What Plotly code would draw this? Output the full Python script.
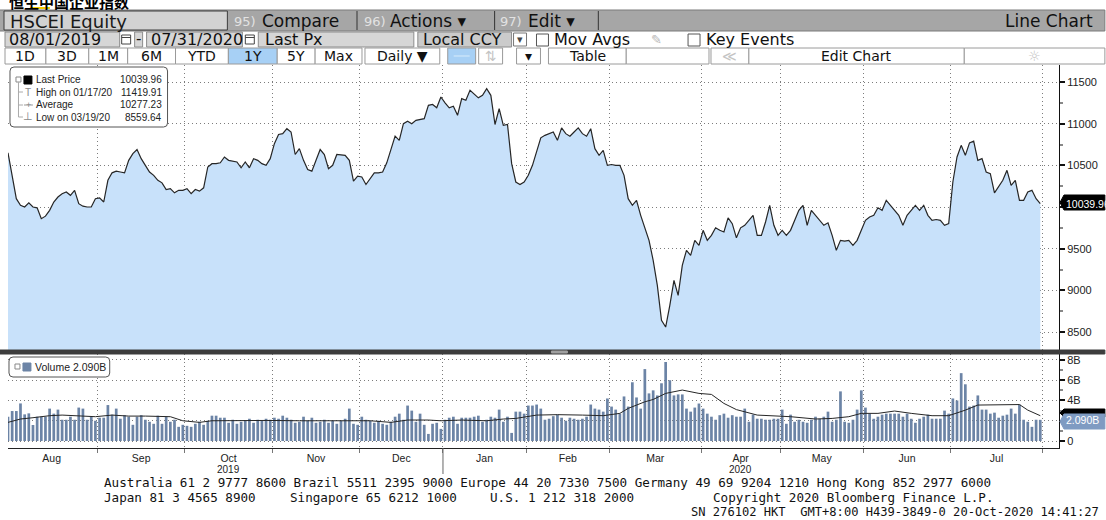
import plotly.graph_objects as go
from plotly.subplots import make_subplots

# trading-day index of the first session in each month (Aug 2019 .. Jul 2020) + end
month_start = [0, 22, 43, 64, 85, 105, 125, 145, 167, 186, 206, 227, 249]
month_names = ["Aug", "Sep", "Oct", "Nov", "Dec", "Jan", "Feb", "Mar", "Apr", "May", "Jun", "Jul"]
year_labels = [("2019", "Oct"), ("2020", "Apr")]

# HSCEI last price, one value per trading day
price = [
    10650, 10380, 10100, 10020, 10000, 10050, 10000, 9990, 9860, 9890,
    9960, 10060, 10120, 10160, 10180, 10140, 10200, 10040, 10010, 10000,
    10000, 10100, 10110, 10060, 10320, 10410, 10430, 10420, 10410, 10560,
    10640, 10690, 10580, 10500, 10420, 10380, 10320, 10290, 10210, 10220,
    10170, 10200, 10200, 10220, 10160, 10210, 10190, 10230, 10480, 10520,
    10520, 10530, 10600, 10560, 10550, 10540, 10470, 10540, 10470, 10580,
    10560, 10520, 10500, 10580, 10760, 10870, 10880, 10940, 10900, 10630,
    10700, 10560, 10450, 10430, 10560, 10690, 10630, 10460, 10500, 10630,
    10625, 10620, 10560, 10310, 10370, 10360, 10270, 10340, 10410, 10410,
    10420, 10530, 10700, 10850, 10800, 11000, 11030, 11000, 11040, 11050,
    11060, 11220, 11230, 11190, 11320, 11250, 11190, 11210, 11100, 11300,
    11280, 11400, 11360, 11310, 11340, 11419.91, 11340, 10990, 11180, 10980,
    10990, 10520, 10300, 10270, 10300, 10380, 10500, 10660, 10830, 10860,
    10880, 10900, 10800, 10950, 10880, 10850, 10900, 10950, 10880, 10850,
    10940, 10700, 10620, 10680, 10500, 10510, 10500, 10500, 10380, 10100,
    10020, 10080, 9900, 9750, 9600, 9360, 9060, 8640, 8559.64, 8820,
    9120, 8940, 9300, 9480, 9420, 9600, 9540, 9720, 9600, 9660,
    9750, 9720, 9700, 9870, 9800, 9630, 9750, 9780, 9840, 9900,
    9660, 9660, 9820, 10020, 9780, 9660, 9720, 9660, 9720, 9840,
    9960, 10020, 9780, 9960, 9900, 9840, 9780, 9810, 9660, 9480,
    9600, 9590, 9600, 9540, 9600, 9720, 9840, 9880, 9900, 9990,
    9960, 10080, 10020, 9960, 9900, 9780, 9900, 9960, 10020, 9960,
    10020, 9900, 9840, 9850, 9840, 9780, 9800, 10300, 10600, 10740,
    10620, 10770, 10790, 10560, 10580, 10420, 10400, 10170, 10250, 10320,
    10440, 10260, 10320, 10080, 10080, 10180, 10200, 10100, 10039.96,
]

# daily volume, billions
volume_b = [
    2.4, 2.96, 2.96, 3.71, 2.63, 2.73, 1.58, 2.4, 2.4, 2.4, 3.2, 2.7, 3.1, 2.1, 2.1, 2.4, 2.1, 3.3, 3.2, 2.1, 2.4, 2.0,
    2.3, 2.3, 3.55, 2.6, 3.2, 2.2, 2.55, 2.4, 1.6, 2.4, 2.55, 2.1, 1.9, 1.7, 2.5, 1.7, 2.4, 1.9, 2.1, 1.4, 1.6,
    1.5, 1.4, 1.7, 1.9, 1.6, 2.0, 2.5, 2.5, 2.3, 2.3, 1.8, 2.1, 1.7, 1.9, 2.0, 2.2, 1.8, 2.1, 2.0, 2.2, 2.1,
    2.3, 2.2, 2.5, 2.3, 2.1, 1.8, 1.9, 2.4, 2.0, 2.3, 1.8, 1.9, 2.1, 1.8, 2.0, 1.7, 2.0, 2.2, 3.2, 1.7, 1.6,
    2.4, 2.1, 2.0, 1.8, 2.0, 1.7, 1.6, 1.9, 2.4, 2.7, 2.1, 3.5, 3.0, 1.9, 2.7, 1.6, 0.7, 1.7, 1.8, 1.2,
    2.1, 2.3, 2.4, 1.7, 2.3, 2.3, 2.3, 2.4, 2.5, 1.9, 2.1, 2.4, 2.3, 3.1, 1.9, 2.4, 0.8, 2.9, 2.9, 2.7,
    3.5, 3.5, 3.6, 3.2, 2.1, 2.2, 2.45, 2.6, 2.3, 2.0, 2.3, 2.2, 2.1, 2.2, 2.4, 3.6, 3.2, 3.1, 2.9, 4.2,
    3.4, 3.1, 2.7, 4.4, 3.4, 5.8, 4.3, 3.2, 7.1, 4.7, 5.0, 4.5, 5.7, 7.8, 6.0, 4.5, 4.6, 4.6, 3.2, 2.9, 3.3, 3.7,
    3.2, 2.7, 2.4, 2.1, 2.55, 2.7, 2.3, 2.55, 2.4, 2.4, 3.2, 1.9, 2.6, 2.2, 2.2, 2.1, 2.1, 2.2, 2.2,
    3.1, 1.7, 2.6, 1.9, 2.1, 1.9, 1.8, 2.1, 2.4, 2.2, 2.4, 2.9, 1.9, 2.1, 4.9, 1.9, 1.8, 2.1, 3.1, 5.0,
    3.3, 2.7, 2.2, 2.4, 2.6, 2.7, 2.7, 2.7, 2.7, 2.4, 2.7, 2.2, 1.8, 2.2, 2.4, 2.6, 2.2, 2.2, 2.2, 3.0, 2.7,
    4.2, 4.0, 6.7, 5.6, 3.4, 3.5, 4.5, 3.1, 3.1, 2.7, 2.8, 2.3, 2.5, 2.6, 3.2, 2.7, 3.6, 2.1, 1.9, 1.4, 2.1, 2.09,
]

# volume moving average, read at a few sessions
vol_ma_idx = [0, 3, 6, 10, 13, 17, 21, 25, 29, 33, 37, 39, 42, 46, 49, 54, 62, 70, 78, 87,
              92, 96, 101, 104, 109, 115, 119, 122, 127, 132, 138, 143, 147, 149, 153, 155, 158, 162, 166, 169,
              172, 175, 180, 184, 188, 194, 198, 202, 205, 209, 213, 217, 222, 226, 230, 233, 238, 243, 245, 248]
vol_ma_b = [1.84, 2.17, 2.3, 2.5, 2.56, 2.5, 2.4, 2.56, 2.46, 2.46, 2.4, 2.4, 2.0, 1.84, 2.0, 2.03, 2.03, 2.0, 2.0, 2.0,
            1.84, 2.07, 2.07, 2.0, 2.07, 2.0, 2.17, 2.23, 2.56, 2.6, 2.56, 2.5, 2.73, 3.22, 3.87, 4.1, 4.7, 5.03, 4.7, 4.6,
            3.71, 3.1, 2.56, 2.46, 2.4, 2.17, 2.23, 2.4, 2.73, 2.73, 2.96, 2.73, 2.5, 2.5, 3.05, 3.55, 3.6, 3.6, 3.05, 2.5]

price_ticks = [8500, 9000, 9500, 10000, 10500, 11000, 11500]
volume_ticks = [0, 2, 4, 6, 8]

legend_rows = [("Last Price", "10039.96"), ("High on 01/17/20", "11419.91"),
               ("Average", "10277.23"), ("Low on 03/19/20", "8559.64")]

footer_1 = "Australia 61 2 9777 8600 Brazil 5511 2395 9000 Europe 44 20 7330 7500 Germany 49 69 9204 1210 Hong Kong 852 2977 6000"
footer_2 = [("Japan 81 3 4565 8900", 103), ("Singapore 65 6212 1000", 290),
            ("U.S. 1 212 318 2000", 490), ("Copyright 2020 Bloomberg Finance L.P.", 714)]
footer_3 = "SN 276102 HKT\u00a0\u00a0GMT+8:00 H439-3849-0 20-Oct-2020 14:41:27"

W, H = 1106, 520
ML, MR, MT, MB = 8, 44, 65, 72
PW, PH = W - ML - MR, H - MT - MB

HDR = "DejaVu Sans"
AX = "Liberation Sans"
MONO = "DejaVu Sans Mono"
GRID = dict(showgrid=True, gridcolor="#7c7c7c", griddash="1px,3px", gridwidth=1)


def fx(x):
    return (x - ML) / PW


def fy(y):
    return (H - MB - y) / PH


shapes = []
notes = []


def rect(x0, y0, x1, y1, fill, line="#8c8c8c", width=1):
    shapes.append(dict(type="rect", xref="paper", yref="paper", layer="above",
                       x0=fx(x0), x1=fx(x1), y0=fy(y1), y1=fy(y0),
                       fillcolor=fill, line=dict(color=line, width=width)))


def hline(x0, x1, y, color, width=1):
    shapes.append(dict(type="line", xref="paper", yref="paper", layer="above",
                       x0=fx(x0), x1=fx(x1), y0=fy(y), y1=fy(y), line=dict(color=color, width=width)))


def vline(x, y0, y1, color, width=1):
    shapes.append(dict(type="line", xref="paper", yref="paper", layer="above",
                       x0=fx(x), x1=fx(x), y0=fy(y0), y1=fy(y1), line=dict(color=color, width=width)))


def rrect(x0, y0, x1, y1, r=4, line="#555"):
    p = (f"M {fx(x0 + r)},{fy(y0)} L {fx(x1 - r)},{fy(y0)} Q {fx(x1)},{fy(y0)} {fx(x1)},{fy(y0 + r)} "
         f"L {fx(x1)},{fy(y1 - r)} Q {fx(x1)},{fy(y1)} {fx(x1 - r)},{fy(y1)} "
         f"L {fx(x0 + r)},{fy(y1)} Q {fx(x0)},{fy(y1)} {fx(x0)},{fy(y1 - r)} "
         f"L {fx(x0)},{fy(y0 + r)} Q {fx(x0)},{fy(y0)} {fx(x0 + r)},{fy(y0)} Z")
    shapes.append(dict(type="path", xref="paper", yref="paper", layer="above", path=p,
                       fillcolor="white", line=dict(color=line, width=1)))


def tag(y0, y1, fill):
    # value flag on the right axis, pointed towards the axis
    ym = (y0 + y1) / 2
    p = (f"M {fx(1063)},{fy(ym)} L {fx(1067)},{fy(y0)} L {fx(W + 2)},{fy(y0)} "
         f"L {fx(W + 2)},{fy(y1)} L {fx(1067)},{fy(y1)} Z")
    shapes.append(dict(type="path", xref="paper", yref="paper", layer="above", path=p,
                       fillcolor=fill, line=dict(color=fill, width=1)))


def text(x, y, s, size=11, color="#111", anchor="left", family=HDR, weight="normal"):
    notes.append(dict(xref="paper", yref="paper", x=fx(x), y=fy(y), text=s, showarrow=False,
                      xanchor=anchor, yanchor="middle", borderpad=0,
                      font=dict(family=family, size=size, color=color, weight=weight)))


idx = list(range(len(price)))
grid_x = [m - 0.5 for m in month_start[1:]]
mid_x = [(a + b) / 2 - 0.5 for a, b in zip(month_start[:-1], month_start[1:])]

fig = make_subplots(rows=2, cols=1, shared_xaxes=True)

fig.add_trace(go.Scatter(x=idx, y=price, mode="lines", fill="tozeroy", fillcolor="#c8e1fa",
                         line=dict(color="#262626", width=1.2)), row=1, col=1)
fig.add_trace(go.Bar(x=idx, y=volume_b, marker=dict(color="#6c84a6", line=dict(width=0))), row=2, col=1)
fig.add_trace(go.Scatter(x=vol_ma_idx, y=vol_ma_b, mode="lines",
                         line=dict(color="#262626", width=1)), row=2, col=1)

xcommon = dict(range=[0, 252.5], showgrid=False, zeroline=False, ticks="",
               minor=dict(tickmode="array", tickvals=grid_x, ticks="outside", ticklen=4,
                          tickcolor="#777", **GRID))
fig.update_xaxes(**xcommon)
fig.update_xaxes(showticklabels=False, row=1, col=1)
fig.update_xaxes(tickmode="array", tickvals=mid_x, ticktext=month_names, showline=True,
                 linecolor="#222", linewidth=1, tickfont=dict(family=AX, size=10.5, color="#222"),
                 row=2, col=1)

ycommon = dict(side="right", showline=True, linecolor="#111", linewidth=1, ticks="outside",
               ticklen=5, tickwidth=2, tickcolor="#111", zeroline=False,
               tickfont=dict(family=AX, size=11, color="#222"), **GRID)
fig.update_yaxes(**ycommon)
fig.update_yaxes(domain=[(H - MB - 350) / PH, 1], range=[8284, 11704], tickmode="array",
                 tickvals=price_ticks, ticktext=["" if v == 10000 else str(v) for v in price_ticks],
                 minor=dict(tickmode="linear", tick0=0, dtick=250, ticks="outside", ticklen=3,
                            tickcolor="#888", showgrid=False),
                 row=1, col=1)
fig.update_yaxes(domain=[0, (H - MB - 354) / PH], range=[-0.69, 8.59], tickmode="array",
                 tickvals=volume_ticks, ticktext=["" if v == 2 else (f"{v}B" if v else "0") for v in volume_ticks],
                 minor=dict(tickmode="linear", tick0=0, dtick=1, ticks="outside", ticklen=3,
                            tickcolor="#888", showgrid=False),
                 row=2, col=1)

# ---- header -------------------------------------------------------------
text(8, 1, "恒生中国企业指数", size=15, color="#000", family="Noto Sans CJK SC", weight="bold")
hline(30, 50, 8, "#f2c800", 2)

rect(-2, 10, W + 2, 31, "#a6a6a6", line="#7a7a7a")
rect(4, 11, 228, 30, "#d2d2d2", line="#3c3c3c")
text(9, 21, "HSCEI Equity", size=18, color="#1a1a1a")
text(234, 21, "95)", size=13, color="#e2e2e2")
text(262, 21, "Compare", size=17, color="#111")
vline(358, 11, 30, "#333")
text(364, 21, "96)", size=13, color="#e2e2e2")
text(390, 21, "Actions \u25be", size=17, color="#111")
vline(496, 11, 30, "#333")
text(500, 21, "97)", size=13, color="#e2e2e2")
text(528, 21, "Edit \u25be", size=17, color="#111")
vline(600, 11, 30, "#333")
text(1097, 21, "Line Chart", size=17, color="#111", anchor="right")

rect(5, 32, 120, 47, "#d6d6d6")
text(8, 39.5, "08/01/2019", size=16, color="#111")
rect(122, 35, 131, 44, "white", line="#444")
hline(122, 131, 37.5, "#444")
rect(135, 32, 143, 47, "#d6d6d6")
text(139, 39.5, "-", size=15, anchor="center")
rect(147, 32, 243, 47, "#d6d6d6")
text(150, 39.5, "07/31/2020", size=16, color="#111")
rect(246, 35, 255, 44, "white", line="#444")
hline(246, 255, 37.5, "#444")
rect(259, 32, 415, 47, "#d6d6d6")
text(265, 39.5, "Last Px", size=16, color="#111")
rect(419, 32, 513, 47, "#cbcbcb")
text(423, 39.5, "Local CCY", size=16, color="#111")
rect(515, 33, 528, 46, "white", line="#777")
text(521.5, 39.5, "\u25be", size=11, anchor="center", color="#444")
rect(538, 34, 550, 46, "white", line="#555")
text(555, 39.5, "Mov Avgs", size=16, color="#111")
text(652, 39.5, "\u270e", size=13, color="#b8b8b8")
rect(690, 34, 702, 46, "white", line="#555")
text(707, 39.5, "Key Events", size=16, color="#111")

buttons = [(5, 46, "1D"), (46, 89, "3D"), (89, 128, "1M"), (128, 176, "6M"), (176, 229, "YTD"),
           (229, 278, "1Y"), (278, 316, "5Y"), (316, 363, "Max"), (366, 441, "Daily \u25bc"),
           (449, 477, ""), (480, 504, "\u21c5"), (518, 542, "\u25be"), (550, 628, "Table"),
           (628, 711, ""), (713, 751, "\u226a"), (751, 967, "Edit Chart"), (967, W + 2, "\u263c")]
for x0, x1, lab in buttons:
    blue = x0 in (229, 449)
    rect(x0, 48, x1, 64, "#a7d0f5" if blue else "white", line="#9a9a9a")
    pale = lab in ("\u21c5", "\u226a", "\u263c")
    text((x0 + x1) / 2, 56, lab, size=14, anchor="center", color="#c4c4c4" if pale else "#111")
hline(455, 471, 56, "#d8ecfb", 1)

# ---- price legend ---------------------------------------------------------
rrect(10, 67, 168, 127)
rect(16, 77, 21, 82, "white", line="#888")
rect(24, 76, 32, 84, "black", line="black")
vline(18.5, 82, 117, "#aaa")
for yy in (92, 105, 117):
    hline(18.5, 23, yy, "#aaa")
text(28, 92, "T", size=10, color="#888", anchor="center", family=AX)
hline(24, 33, 105, "#999")
text(28.5, 105, "+", size=9, color="#888", anchor="center", family=AX)
text(28, 116, "\u22a5", size=11, color="#888", anchor="center", family=HDR)
for k, (lab, val) in enumerate(legend_rows):
    yy = [80, 92, 105, 117][k]
    text(35, yy, lab, size=10, color="#222", family=AX)
    text(163, yy, val, size=10, color="#222", family=AX, anchor="right")

# ---- pane separator and volume legend -------------------------------------
rect(-2, 350, W + 2, 354, "#3d3d3d", line="#3d3d3d")
rect(553, 351, 569, 353, "#a0a0a0", line="#a0a0a0")
rrect(9, 357, 110, 377)
rect(15, 364, 20, 369, "white", line="#888")
rect(23, 363, 31, 371, "#6c84a6", line="#6c84a6")
text(34, 367, f"Volume {volume_b[-1]:.3f}B", size=10.5, color="#222", family=AX)

# ---- right axis value tags -------------------------------------------------
tag(195, 210, "black")
notes.append(dict(xref="paper", yref="y", x=fx(1068), y=price[-1], text=f"{price[-1]:.2f}",
                  showarrow=False, xanchor="left", yanchor="middle", borderpad=0,
                  font=dict(family=AX, size=10.5, color="white")))
tag(409, 417, "black")     # moving-average flag, mostly hidden behind the volume flag
tag(414, 429, "#7f9bc2")
notes.append(dict(xref="paper", yref="y2", x=fx(1068), y=volume_b[-1], text=f"{volume_b[-1]:.3f}B",
                  showarrow=False, xanchor="left", yanchor="middle", borderpad=0,
                  font=dict(family=AX, size=10.5, color="white")))

# year labels and the year-change tick
for yr, mon in year_labels:
    notes.append(dict(xref="x2", yref="paper", x=mid_x[month_names.index(mon)], y=fy(469), text=yr,
                      showarrow=False, xanchor="center", yanchor="middle",
                      font=dict(family=AX, size=10, color="#222")))
shapes.append(dict(type="line", xref="x2", yref="paper", x0=grid_x[4], x1=grid_x[4],
                   y0=fy(448), y1=fy(474), line=dict(color="#666", width=1)))

# ---- footer ----------------------------------------------------------------
text(103, 482, footer_1, size=12.6, color="#111", family=MONO)
for s, x in footer_2:
    text(x, 497, s, size=12.6, color="#111", family=MONO)
text(1103, 512, footer_3, size=12.1, color="#111", family=MONO, anchor="right")

fig.update_layout(
    width=W, height=H,
    margin=dict(l=ML, r=MR, t=MT, b=MB),
    plot_bgcolor="white", paper_bgcolor="white",
    showlegend=False, hovermode=False, bargap=0.35,
    shapes=shapes, annotations=notes,
)

# the page's default body margin would push the figure 8px right and down
fig.write_html("out.html", config={"staticPlot": True},
               post_script="document.body.style.margin='0px';")
